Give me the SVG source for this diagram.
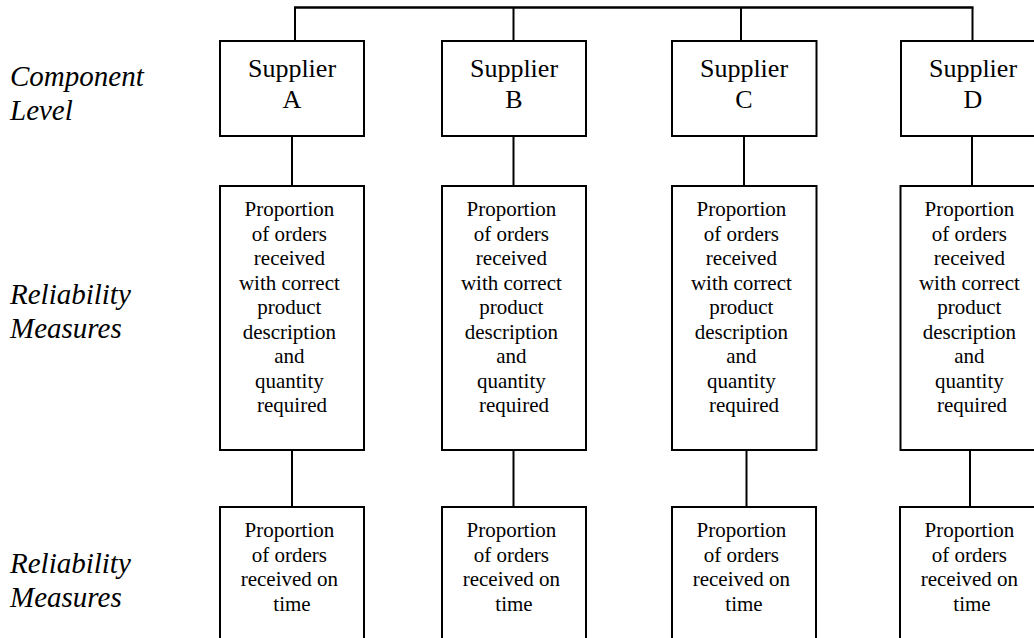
<svg xmlns="http://www.w3.org/2000/svg" width="1034" height="638" viewBox="0 0 1034 638">
  <style>
    .box { fill: #ffffff; stroke: #000000; stroke-width: 2; }
    .wire { fill: none; stroke: #000000; stroke-width: 2; }
    .bus { fill: none; stroke: #000000; stroke-width: 2.6; }
    text { font-family: 'Liberation Serif', Tinos, 'Times New Roman', Times, 'Nimbus Roman', 'Nimbus Roman No9 L', FreeSerif, 'DejaVu Serif', 'Noto Serif', Georgia, serif; fill: #000000; }
    .name { font-size: 26px; text-anchor: middle; }
    .body { font-size: 21px; text-anchor: middle; }
    .level { font-size: 29px; font-style: italic; }
  </style>
  <rect width="1034" height="638" fill="#ffffff"/>

  <!-- row labels -->
  <g id="labels">
    <text class="level" x="10" y="86">Component</text>
    <text class="level" x="10" y="120">Level</text>
    <text class="level" x="10" y="304">Reliability</text>
    <text class="level" x="10" y="338">Measures</text>
    <text class="level" x="10" y="573">Reliability</text>
    <text class="level" x="10" y="607">Measures</text>
  </g>

  <!-- connectors -->
  <g id="connectors">
    <path class="bus" d="M294,7.5 H973.5"/>
    <path class="wire" d="M295,7.5 V41 M513.5,7.5 V41 M741,7.5 V41 M972.5,7.5 V41"/>
    <path class="wire" d="M292,136 V186 M513.5,136 V186 M744,136 V186 M972,136 V186"/>
    <path class="wire" d="M292,450 V507 M513.5,450 V507 M746.5,450 V507 M970,450 V507"/>
  </g>

  <!-- supplier boxes -->
  <g id="supplier-a">
    <rect class="box" x="220" y="41" width="144" height="95"/>
    <text class="name" x="292" y="76.5">Supplier</text>
    <text class="name" x="292" y="107.5">A</text>
  </g>
  <g id="supplier-b">
    <rect class="box" x="442" y="41" width="144" height="95"/>
    <text class="name" x="514" y="76.5">Supplier</text>
    <text class="name" x="514" y="107.5">B</text>
  </g>
  <g id="supplier-c">
    <rect class="box" x="672" y="41" width="144.5" height="95"/>
    <text class="name" x="744" y="76.5">Supplier</text>
    <text class="name" x="744" y="107.5">C</text>
  </g>
  <g id="supplier-d">
    <rect class="box" x="901" y="41" width="144" height="95"/>
    <text class="name" x="973" y="76.5">Supplier</text>
    <text class="name" x="973" y="107.5">D</text>
  </g>

  <!-- accuracy measure boxes -->
  <g id="accuracy-a">
    <rect class="box" x="220" y="186" width="144" height="264"/>
    <text class="body" x="292" y="216">
      <tspan x="292" dy="0">Proportion</tspan>
      <tspan x="292" dy="24.5">of orders</tspan>
      <tspan x="292" dy="24.5">received</tspan>
      <tspan x="292" dy="24.5">with correct</tspan>
      <tspan x="292" dy="24.5">product</tspan>
      <tspan x="292" dy="24.5">description</tspan>
      <tspan x="292" dy="24.5">and</tspan>
      <tspan x="292" dy="24.5">quantity</tspan>
      <tspan x="292" dy="24.5">required</tspan>
    </text>
  </g>
  <g id="accuracy-b">
    <rect class="box" x="442" y="186" width="144" height="264"/>
    <text class="body" x="514" y="216">
      <tspan x="514" dy="0">Proportion</tspan>
      <tspan x="514" dy="24.5">of orders</tspan>
      <tspan x="514" dy="24.5">received</tspan>
      <tspan x="514" dy="24.5">with correct</tspan>
      <tspan x="514" dy="24.5">product</tspan>
      <tspan x="514" dy="24.5">description</tspan>
      <tspan x="514" dy="24.5">and</tspan>
      <tspan x="514" dy="24.5">quantity</tspan>
      <tspan x="514" dy="24.5">required</tspan>
    </text>
  </g>
  <g id="accuracy-c">
    <rect class="box" x="672" y="186" width="144.5" height="264"/>
    <text class="body" x="744" y="216">
      <tspan x="744" dy="0">Proportion</tspan>
      <tspan x="744" dy="24.5">of orders</tspan>
      <tspan x="744" dy="24.5">received</tspan>
      <tspan x="744" dy="24.5">with correct</tspan>
      <tspan x="744" dy="24.5">product</tspan>
      <tspan x="744" dy="24.5">description</tspan>
      <tspan x="744" dy="24.5">and</tspan>
      <tspan x="744" dy="24.5">quantity</tspan>
      <tspan x="744" dy="24.5">required</tspan>
    </text>
  </g>
  <g id="accuracy-d">
    <rect class="box" x="900.5" y="186" width="144" height="264"/>
    <text class="body" x="972" y="216">
      <tspan x="972" dy="0">Proportion</tspan>
      <tspan x="972" dy="24.5">of orders</tspan>
      <tspan x="972" dy="24.5">received</tspan>
      <tspan x="972" dy="24.5">with correct</tspan>
      <tspan x="972" dy="24.5">product</tspan>
      <tspan x="972" dy="24.5">description</tspan>
      <tspan x="972" dy="24.5">and</tspan>
      <tspan x="972" dy="24.5">quantity</tspan>
      <tspan x="972" dy="24.5">required</tspan>
    </text>
  </g>

  <!-- on-time measure boxes (run past the bottom edge) -->
  <g id="ontime-a">
    <rect class="box" x="220" y="507" width="144" height="160"/>
    <text class="body" x="292" y="537">
      <tspan x="292" dy="0">Proportion</tspan>
      <tspan x="292" dy="24.5">of orders</tspan>
      <tspan x="292" dy="24.5">received on</tspan>
      <tspan x="292" dy="24.5">time</tspan>
    </text>
  </g>
  <g id="ontime-b">
    <rect class="box" x="442" y="507" width="144" height="160"/>
    <text class="body" x="514" y="537">
      <tspan x="514" dy="0">Proportion</tspan>
      <tspan x="514" dy="24.5">of orders</tspan>
      <tspan x="514" dy="24.5">received on</tspan>
      <tspan x="514" dy="24.5">time</tspan>
    </text>
  </g>
  <g id="ontime-c">
    <rect class="box" x="672" y="507" width="144" height="160"/>
    <text class="body" x="744" y="537">
      <tspan x="744" dy="0">Proportion</tspan>
      <tspan x="744" dy="24.5">of orders</tspan>
      <tspan x="744" dy="24.5">received on</tspan>
      <tspan x="744" dy="24.5">time</tspan>
    </text>
  </g>
  <g id="ontime-d">
    <rect class="box" x="900" y="507" width="144" height="160"/>
    <text class="body" x="972" y="537">
      <tspan x="972" dy="0">Proportion</tspan>
      <tspan x="972" dy="24.5">of orders</tspan>
      <tspan x="972" dy="24.5">received on</tspan>
      <tspan x="972" dy="24.5">time</tspan>
    </text>
  </g>
</svg>
